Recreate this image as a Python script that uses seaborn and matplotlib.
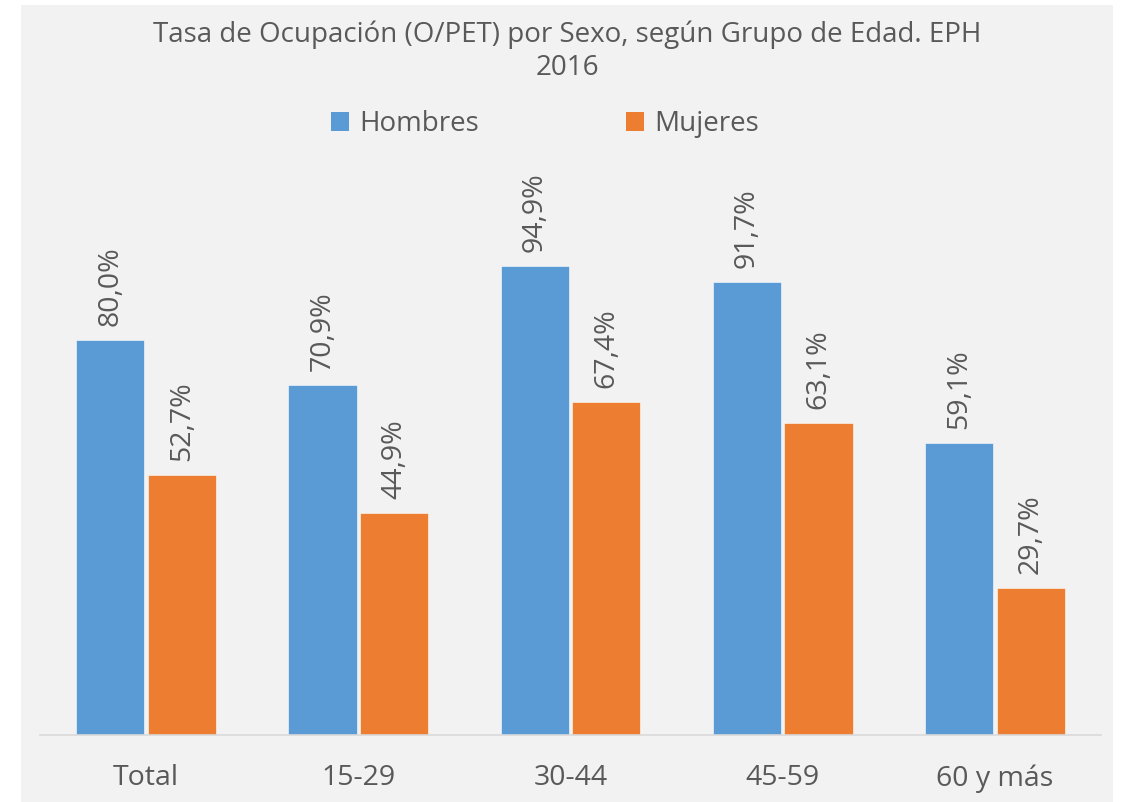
import pandas as pd
import matplotlib.pyplot as plt
import seaborn as sns
from matplotlib.patches import Patch

grupos = ['Total', '15-29', '30-44', '45-59', '60 y más']
hombres = [80.0, 70.9, 94.9, 91.7, 59.1]
mujeres = [52.7, 44.9, 67.4, 63.1, 29.7]
sexos = ['Hombres', 'Mujeres']
colores = ['#5B9BD5', '#ED7D31']

df = pd.DataFrame({
    'grupo': grupos * 2,
    'sexo': ['Hombres'] * len(grupos) + ['Mujeres'] * len(grupos),
    'tasa': hombres + mujeres,
})

sns.set_style('white')
plt.rcParams['font.family'] = ['Open Sans', 'DejaVu Sans']
texto = '#595959'
fondo = '#F2F2F2'

fig = plt.figure(figsize=(11.22, 8.02), dpi=100)
fig.patch.set_facecolor('white')
# gray chart area
fig.patches.append(plt.Rectangle((21 / 1122, 0), 1092 / 1122, 797 / 802,
                                 transform=fig.transFigure, facecolor=fondo,
                                 edgecolor='none', zorder=-10))

ax = fig.add_axes([40 / 1122, 67 / 802, 1061 / 1122, 494 / 802])
ax.set_facecolor(fondo)

sns.barplot(data=df, x='grupo', y='tasa', hue='sexo', order=grupos,
            hue_order=sexos, palette=colores, saturation=1, width=0.675,
            gap=0.05, edgecolor='white', linewidth=0.4, legend=False, ax=ax)

ax.set_xlim(-0.5, len(grupos) - 0.5)
ax.set_ylim(0, 100)
for s in ['top', 'right', 'left']:
    ax.spines[s].set_visible(False)
ax.spines['bottom'].set_color('#D9D9D9')
ax.spines['bottom'].set_linewidth(1.2)
ax.set_yticks([])
ax.set_xlabel('')
ax.set_ylabel('')
ax.tick_params(axis='x', length=0, pad=21, labelsize=20.5, labelcolor=texto)

for cont, vals in zip(ax.containers, [hombres, mujeres]):
    etiquetas = [f'{v:.1f}%'.replace('.', ',') for v in vals]
    ax.bar_label(cont, labels=etiquetas, rotation=90, padding=10,
                 fontsize=20.5, color=texto, clip_on=False)

fig.text(567 / 1122, 1 - 51 / 802,
         'Tasa de Ocupación (O/PET) por Sexo, según Grupo de Edad. EPH\n2016',
         ha='center', va='center', fontsize=20, color=texto, linespacing=1.25)

handles = [Patch(facecolor=c, edgecolor='none') for c in colores]
fig.legend(handles, sexos, loc='center', ncol=2,
           bbox_to_anchor=(545 / 1122, 1 - 124 / 802), frameon=False,
           fontsize=20, labelcolor=texto, handlelength=0.65, handleheight=0.65,
           handletextpad=0.35, columnspacing=5.3)

fig.savefig('out.png', dpi=100, facecolor='white')
